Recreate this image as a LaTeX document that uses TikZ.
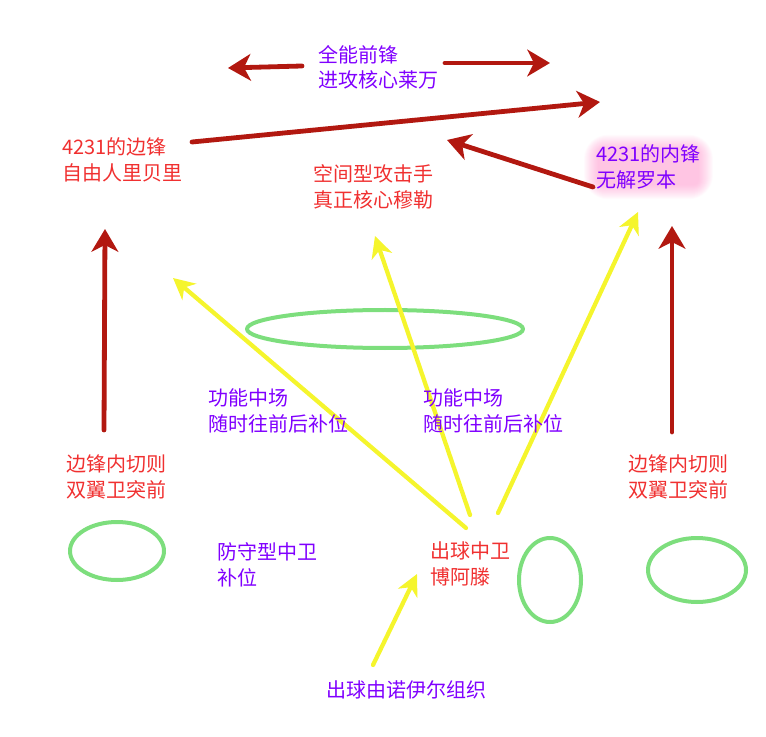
\documentclass[tikz,border=0pt]{standalone}
\usepackage{fontspec}
\setmainfont{Noto Sans CJK SC}
\usetikzlibrary{arrows.meta, calc, backgrounds}

\definecolor{arrowred}{RGB}{178,24,16}
\definecolor{txtred}{RGB}{240,48,48}
\definecolor{txtpurple}{RGB}{128,0,255}
\definecolor{arrowyellow}{RGB}{245,245,45}
\definecolor{ringgreen}{RGB}{125,222,125}
\definecolor{glowpink}{RGB}{255,100,180}

\begin{document}
\begin{tikzpicture}[
        x=0.75pt,
        y=-0.75pt,
        line join=round,
        line cap=round,
        redtext/.style={anchor=west, align=left, inner sep=0pt, text=txtred,
            font=\fontsize{15pt}{19pt}\selectfont},
        purpletext/.style={redtext, text=txtpurple},
        glowbox/.style={fill=glowpink, opacity=0.032},
        redarrow/.style={draw=arrowred, line width=3.6pt,
            -{Stealth[length=17pt, width=20pt, inset=5pt]}},
        yellowarrow/.style={draw=arrowyellow, line width=3.2pt,
            -{Stealth[length=16pt, width=16pt, inset=5pt]}},
        ring/.style={draw=ringgreen, line width=3pt}
    ]

        \useasboundingbox (0,0) rectangle (766,737);

        % ---------------------------------
        % green rings
        % ---------------------------------
        \draw[ring] (385,329) ellipse [x radius=138, y radius=19];
        \draw[ring] (117,551) ellipse [x radius=47, y radius=29];
        \draw[ring] (550,580) ellipse [x radius=31, y radius=42];
        \draw[ring] (697,570) ellipse [x radius=49, y radius=32];

        % ---------------------------------
        % arrow end points
        % ---------------------------------
        \coordinate (topL0) at (302,66);
        \coordinate (topL1) at (228,68);
        \coordinate (topR0) at (445,63);
        \coordinate (topR1) at (550,63);
        \coordinate (long0) at (192,142);
        \coordinate (long1) at (600,102);
        \coordinate (back0) at (593,187);
        \coordinate (back1) at (447,140);
        \coordinate (upL0) at (104,430);
        \coordinate (upL1) at (105,229);
        \coordinate (upR0) at (672,432);
        \coordinate (upR1) at (672,226);

        \coordinate (ya0) at (466,528);
        \coordinate (ya1) at (173,278);
        \coordinate (yb0) at (470,515);
        \coordinate (yb1) at (375,236);
        \coordinate (yc0) at (498,513);
        \coordinate (yc1) at (638,212);
        \coordinate (yd0) at (373,665);
        \coordinate (yd1) at (417,574);

        % ---------------------------------
        % yellow passes
        % ---------------------------------
        \draw[yellowarrow] (ya0) -- (ya1);
        \draw[yellowarrow] (yb0) -- (yb1);
        \draw[yellowarrow] (yc0) -- (yc1);
        \draw[yellowarrow] (yd0) -- (yd1);

        % ---------------------------------
        % red runs
        % ---------------------------------
        \draw[redarrow] (topL0) -- (topL1);
        \draw[redarrow] (topR0) -- (topR1);
        \draw[redarrow] (long0) -- (long1);
        \draw[redarrow] (back0) -- (back1);
        \draw[redarrow] (upL0) -- (upL1);
        \draw[redarrow] (upR0) -- (upR1);

        % ---------------------------------
        % labels
        % ---------------------------------
        \node[purpletext] (lewan) at (318,67) {全能前锋\\进攻核心莱万};
        \node[redtext] (ribery) at (62,160) {4231的边锋\\自由人里贝里};
        \node[redtext] (muller) at (313,187) {空间型攻击手\\真正核心穆勒};

        \node[purpletext] (robben) at (596,167) {4231的内锋\\无解罗本};
        % pink glow behind robben
        \begin{scope}[on background layer]
            \foreach \r in {-2,...,12}{
                \fill[glowbox, rounded corners=6pt+\r pt]
                    ($(robben.south west)+(-\r,\r-2)$) rectangle
                    ($(robben.north east)+(\r,-\r+2)$);
            }
        \end{scope}

        \node[purpletext] (midL) at (208,411) {功能中场\\随时往前后补位};
        \node[purpletext] (midR) at (423,411) {功能中场\\随时往前后补位};
        \node[redtext] (wingL) at (66,477) {边锋内切则\\双翼卫突前};
        \node[redtext] (wingR) at (628,477) {边锋内切则\\双翼卫突前};
        \node[purpletext] (defcb) at (217,565) {防守型中卫\\补位};
        \node[redtext] (boateng) at (430,564) {出球中卫\\博阿滕};
        \node[purpletext] (neuer) at (326,690) {出球由诺伊尔组织};

    \end{tikzpicture}
\end{document}
